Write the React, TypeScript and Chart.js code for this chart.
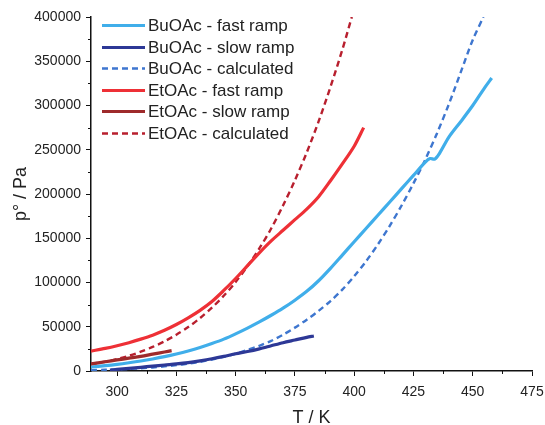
import React, { useEffect, useRef } from "react";
import { Chart, registerables } from "chart.js";

Chart.register(...registerables);

// ---- data (T in K, p in Pa) ----
const buFastT = [289, 295, 300, 305, 310, 315, 320, 325, 330, 335, 340, 345, 350, 355, 360, 365, 370, 375, 380, 385, 390, 395, 400, 405, 410, 415, 420, 425, 430, 432, 434, 436, 440, 445, 450, 455, 458];
const buFastP = [4500, 6000, 7500, 9300, 11300, 13600, 16200, 19200, 22600, 26500, 31000, 36000, 42000, 48500, 55500, 63000, 71000, 80000, 90000, 102000, 116000, 131000, 146000, 161000, 176000, 191000, 206000, 221000, 236000, 240000, 239500, 246000, 264500, 282000, 300000, 320000, 331000];

const buSlowT = [297, 300, 305, 310, 315, 320, 325, 330, 335, 340, 345, 350, 355, 360, 365, 370, 375, 380, 383];
const buSlowP = [1000, 1800, 3000, 4200, 5500, 6800, 8000, 9500, 11500, 13800, 16500, 19500, 22000, 25000, 28500, 32000, 35000, 38000, 39500];

const buCalcT = [289, 295, 300, 305, 310, 315, 320, 325, 330, 335, 340, 345, 350, 355, 360, 365, 370, 375, 380, 385, 390, 395, 400, 405, 410, 415, 420, 425, 430, 435, 440, 445, 450, 454.5];
const buCalcP = [1000, 1350, 1800, 2400, 3100, 4000, 5200, 6600, 8300, 10400, 13000, 16000, 19500, 23800, 28500, 34000, 41000, 49000, 58000, 68000, 79000, 92000, 107000, 124000, 143000, 164000, 187000, 212000, 239000, 269000, 302000, 338000, 374000, 400000];

const etFastT = [289, 295, 300, 305, 310, 315, 320, 325, 330, 335, 340, 345, 350, 355, 360, 365, 370, 375, 380, 385, 390, 395, 400, 404];
const etFastP = [22500, 25500, 28500, 32000, 36000, 40500, 46000, 52500, 60000, 68500, 78500, 91000, 104500, 119000, 133500, 147000, 159000, 171000, 183000, 197000, 215000, 234000, 254000, 275000];

const etSlowT = [289, 295, 300, 305, 310, 315, 320, 323];
const etSlowP = [8000, 10500, 12500, 14500, 16500, 19000, 21500, 23000];

const etCalcT = [289, 295, 300, 305, 310, 315, 320, 325, 330, 335, 340, 345, 350, 355, 360, 365, 370, 375, 380, 385, 390, 395, 399];
const etCalcP = [8000, 10500, 13500, 17200, 21800, 27200, 33500, 41000, 49600, 59800, 71500, 85000, 100500, 118500, 138500, 161000, 187000, 215500, 247000, 282000, 321000, 363000, 400000];

const seriesLabels = [
  "BuOAc - fast ramp",
  "BuOAc - slow ramp",
  "BuOAc - calculated",
  "EtOAc - fast ramp",
  "EtOAc - slow ramp",
  "EtOAc - calculated",
];

const xTickValues = [300, 325, 350, 375, 400, 425, 450, 475];
const xMinorValues = [312.5, 337.5, 362.5, 387.5, 412.5, 437.5, 462.5];
const yTickValues = [0, 50000, 100000, 150000, 200000, 250000, 300000, 350000, 400000];
const yMinorValues = [25000, 75000, 125000, 175000, 225000, 275000, 325000, 375000];

const toPts = (t: number[], p: number[]) => t.map((v, i) => ({ x: v, y: p[i] }));

const FONT = "'Liberation Sans', Arial, Helvetica, sans-serif";

export default function App() {
  const ref = useRef<HTMLCanvasElement>(null);

  useEffect(() => {
    if (!ref.current) return;

    const minorTicks = {
      id: "minorTicks",
      afterDraw(chart: any) {
        const { ctx, scales } = chart;
        const x = scales.x;
        const y = scales.y;
        ctx.save();
        ctx.strokeStyle = "#111";
        ctx.lineWidth = 1;
        for (const v of xMinorValues) {
          const px = Math.round(x.getPixelForValue(v)) + 0.5;
          ctx.beginPath();
          ctx.moveTo(px, chart.chartArea.bottom);
          ctx.lineTo(px, chart.chartArea.bottom + 3);
          ctx.stroke();
        }
        for (const v of yMinorValues) {
          const py = Math.round(y.getPixelForValue(v)) + 0.5;
          ctx.beginPath();
          ctx.moveTo(chart.chartArea.left, py);
          ctx.lineTo(chart.chartArea.left - 3, py);
          ctx.stroke();
        }
        ctx.restore();
      },
    };

    // legend inside the plot area, drawn from the dataset styles
    const insideLegend = {
      id: "insideLegend",
      afterDraw(chart: any) {
        const { ctx } = chart;
        const x0 = chart.chartArea.left + 11;
        const sampleW = 43;
        const y0 = chart.chartArea.top + 8;
        const rowH = 21.5;
        ctx.save();
        ctx.font = `17px ${FONT}`;
        ctx.textBaseline = "middle";
        ctx.textAlign = "left";
        chart.data.datasets.forEach((ds: any, i: number) => {
          const y = Math.round(y0 + i * rowH) + 0.5;
          ctx.beginPath();
          ctx.strokeStyle = ds.borderColor;
          ctx.lineWidth = ds.borderWidth;
          ctx.setLineDash(ds.borderDash || []);
          ctx.moveTo(x0, y);
          ctx.lineTo(x0 + sampleW, y);
          ctx.stroke();
          ctx.setLineDash([]);
          ctx.fillStyle = "#222";
          ctx.fillText(ds.label, x0 + sampleW + 3, y + 0.5);
        });
        ctx.restore();
      },
    };

    const mk = (i: number, data: any[], color: string, width: number, dash: number[] = [], order = 1) => ({
      label: seriesLabels[i],
      data,
      borderColor: color,
      backgroundColor: color,
      borderWidth: width,
      borderDash: dash,
      pointRadius: 0,
      pointHoverRadius: 0,
      tension: 0.3,
      fill: false,
      order,
    });

    const chart = new Chart(ref.current, {
      type: "line",
      data: {
        datasets: [
          mk(0, toPts(buFastT, buFastP), "#40aeea", 3.2),
          mk(1, toPts(buSlowT, buSlowP), "#2d3896", 3.2, [], 0),
          mk(2, toPts(buCalcT, buCalcP), "#3e76cf", 2.4, [6, 4]),
          mk(3, toPts(etFastT, etFastP), "#ee3036", 3.2),
          mk(4, toPts(etSlowT, etSlowP), "#9e2a2b", 3.2, [], 0),
          mk(5, toPts(etCalcT, etCalcP), "#b81f2e", 2.4, [6, 4]),
        ],
      },
      options: {
        responsive: false,
        animation: false,
        layout: { padding: { top: 17, right: 13, left: 0, bottom: 0 } },
        plugins: {
          tooltip: { enabled: false },
          legend: { display: false },
        },
        scales: {
          x: {
            type: "linear",
            min: 289,
            max: 475,
            afterBuildTicks: (s: any) => {
              s.ticks = xTickValues.map((v) => ({ value: v }));
            },
            afterFit: (s: any) => {
              s.height = 54;
              s.paddingRight = 0;
              s.paddingLeft = 0;
            },
            grid: { display: true, drawOnChartArea: false, drawTicks: true, tickLength: 5, color: "#111", tickColor: "#111", tickWidth: 1 },
            border: { display: true, color: "#111", width: 1.5 },
            ticks: {
              autoSkip: false,
              maxRotation: 0,
              padding: 8,
              color: "#222",
              font: { family: FONT, size: 14 },
              callback: (v: any) => String(v),
            },
            title: {
              display: true,
              text: "T / K",
              color: "#222",
              font: { family: FONT, size: 18, lineHeight: 0.75 },
              padding: { top: 0, bottom: 0 },
            },
          },
          y: {
            type: "linear",
            min: 0,
            max: 400000,
            afterBuildTicks: (s: any) => {
              s.ticks = yTickValues.map((v) => ({ value: v }));
            },
            afterFit: (s: any) => {
              s.width = 91;
              s.paddingTop = 0;
              s.paddingBottom = 0;
            },
            grid: { display: true, drawOnChartArea: false, drawTicks: true, tickLength: 5, color: "#111", tickColor: "#111", tickWidth: 1 },
            border: { display: true, color: "#111", width: 1.5 },
            ticks: {
              autoSkip: false,
              padding: 5,
              color: "#222",
              font: { family: FONT, size: 14 },
              callback: (v: any) => String(v),
            },
            title: {
              display: true,
              text: "p° / Pa",
              color: "#222",
              font: { family: FONT, size: 18, lineHeight: 1.2 },
              padding: { top: 10, bottom: 0 },
            },
          },
        },
      },
      plugins: [minorTicks, insideLegend],
    });

    return () => chart.destroy();
  }, []);

  return (
    <div style={{ position: "fixed", left: 0, top: 0, width: 545, height: 425, background: "#fff" }}>
      <canvas ref={ref} width={545} height={425} />
    </div>
  );
}
